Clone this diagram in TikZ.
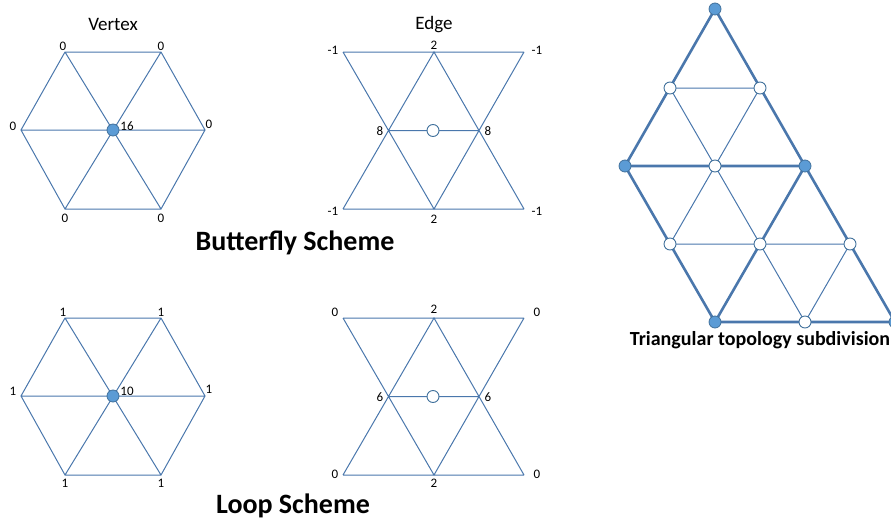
\documentclass[tikz,border=0pt]{standalone}
\usepackage{fontspec}
\setmainfont{Carlito}
\definecolor{ln}{HTML}{4A77AC}
\definecolor{dotfill}{HTML}{5B9BD5}
\definecolor{dotline}{HTML}{41719C}
\begin{document}
\begin{tikzpicture}[x=1pt,y=-1pt,
 thinl/.style={draw=ln,line width=1pt},
 thickl/.style={draw=ln,line width=2.6pt},
 fdot/.style={circle,fill=dotfill,draw=dotline,line width=0.8pt,minimum size=12pt,inner sep=0},
 odot/.style={circle,fill=white,draw=dotline,line width=0.9pt,minimum size=12pt,inner sep=0},
 num/.style={font=\fontsize{13}{13}\selectfont,inner sep=0},
 ttl/.style={font=\fontsize{19}{19}\selectfont,inner sep=0},
 bigttl/.style={font=\bfseries\fontsize{28}{28}\selectfont,inner sep=0},
 midttl/.style={font=\bfseries\fontsize{20}{20}\selectfont,inner sep=0}]
\useasboundingbox (0,0) rectangle (891,522);

% ---------- Butterfly vertex ----------
\node[ttl] (vt) at (113,24) {Vertex};
\begin{scope}[name prefix=bv-]
\coordinate (h1) at (65,52); \coordinate (h2) at (161,52); \coordinate (h3) at (205,130);
\coordinate (h4) at (161,209); \coordinate (h5) at (65,209); \coordinate (h6) at (21,130);
\draw[thinl] (h1)--(h2)--(h3)--(h4)--(h5)--(h6)--cycle (h1)--(h4) (h2)--(h5) (h6)--(h3);
\node[fdot] (c) at (113,130) {};
\node[num] (l1) at (63,46) {0}; \node[num] (l2) at (161,46) {0};
\node[num] (l3) at (209,124) {0}; \node[num] (l4) at (161,218) {0};
\node[num] (l5) at (65,218) {0}; \node[num] (l6) at (13,126) {0};
\node[num] (lc) at (127,126) {16};
\end{scope}

% ---------- Butterfly edge ----------
\node[ttl] (et) at (434,25) {Edge};
\begin{scope}[name prefix=be-]
\coordinate (tl) at (343,52); \coordinate (tm) at (434,52); \coordinate (tr) at (524,52);
\coordinate (bl) at (343,209); \coordinate (bm) at (434,209); \coordinate (br) at (524,209);
\coordinate (ml) at (388.5,130.5); \coordinate (mr) at (478.5,130.5);
\draw[thinl] (tl)--(tr) (bl)--(br) (tl)--(bm)--(tr) (bl)--(tm)--(br) (ml)--(mr);
\node[odot] (c) at (433,130.5) {};
\node[num] (l1) at (333,50) {-1}; \node[num] (l2) at (537,50) {-1};
\node[num] (l3) at (333,211) {-1}; \node[num] (l4) at (537,211) {-1};
\node[num] (l5) at (434,45) {2}; \node[num] (l6) at (434,219) {2};
\node[num] (l7) at (380,131) {8}; \node[num] (l8) at (488,131) {8};
\end{scope}
\node[bigttl] (bt) at (295,243) {Butterfly Scheme};

% ---------- Loop vertex ----------
\begin{scope}[name prefix=lv-, shift={(0,266)}]
\coordinate (h1) at (65,52); \coordinate (h2) at (161,52); \coordinate (h3) at (205,130);
\coordinate (h4) at (161,209); \coordinate (h5) at (65,209); \coordinate (h6) at (21,130);
\draw[thinl] (h1)--(h2)--(h3)--(h4)--(h5)--(h6)--cycle (h1)--(h4) (h2)--(h5) (h6)--(h3);
\node[fdot] (c) at (113,130) {};
\node[num] (l1) at (63,46) {1}; \node[num] (l2) at (161,46) {1};
\node[num] (l3) at (209,123) {1}; \node[num] (l4) at (161,217) {1};
\node[num] (l5) at (65,217) {1}; \node[num] (l6) at (13,125) {1};
\node[num] (lc) at (127,125) {10};
\end{scope}

% ---------- Loop edge ----------
\begin{scope}[name prefix=le-, shift={(0,266)}]
\coordinate (tl) at (343,52); \coordinate (tm) at (434,52); \coordinate (tr) at (524,52);
\coordinate (bl) at (343,209); \coordinate (bm) at (434,209); \coordinate (br) at (524,209);
\coordinate (ml) at (388.5,130.5); \coordinate (mr) at (478.5,130.5);
\draw[thinl] (tl)--(tr) (bl)--(br) (tl)--(bm)--(tr) (bl)--(tm)--(br) (ml)--(mr);
\node[odot] (c) at (433,130.5) {};
\node[num] (l1) at (335,46) {0}; \node[num] (l2) at (537,46) {0};
\node[num] (l3) at (335,208) {0}; \node[num] (l4) at (537,208) {0};
\node[num] (l5) at (434,43) {2}; \node[num] (l6) at (434,217) {2};
\node[num] (l7) at (380,131) {6}; \node[num] (l8) at (488,131) {6};
\end{scope}
\node[bigttl] (lt) at (293,506) {Loop Scheme};

% ---------- Triangular subdivision ----------
\begin{scope}[name prefix=t-]
\coordinate (a0) at (715,9);
\coordinate (b0) at (670,88); \coordinate (b1) at (760,88);
\coordinate (c0) at (625,166); \coordinate (c1) at (715,166); \coordinate (c2) at (805,166);
\coordinate (d0) at (670,244); \coordinate (d1) at (760,244); \coordinate (d2) at (850,244);
\coordinate (e0) at (715,322); \coordinate (e1) at (805,322); \coordinate (e2) at (895,322);
\draw[thinl] (b0)--(b1) (b0)--(c1)--(b1) (d0)--(c1)--(d1) (d0)--(d1)--(d2) (d1)--(e1)--(d2);
\draw[thickl,line join=round] (c0)--(a0)--(c2)--cycle (c0)--(e0)--(c2)--(e2)--(e0);
\foreach \p in {b0,b1,c1,d0,d1,d2,e1} \node[odot] (o\p) at (\p) {};
\foreach \p in {a0,c0,c2,e0,e2} \node[fdot] (f\p) at (\p) {};
\end{scope}
\node[midttl] (tt) at (760,340) {Triangular topology subdivision};
\end{tikzpicture}
\end{document}
